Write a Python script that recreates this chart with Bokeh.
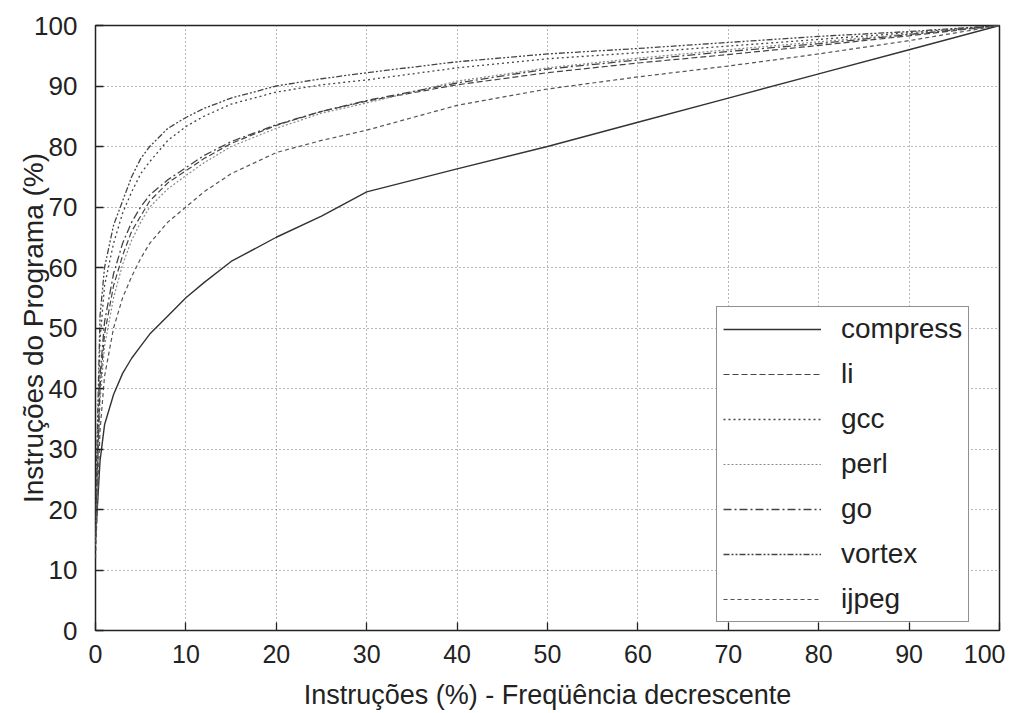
from bokeh.plotting import figure
from bokeh.models import Legend, LegendItem, Range1d, FixedTicker
from bokeh.embed import file_html
from bokeh.resources import INLINE

# ---- data ----
x_pct = [0, 0.5, 1, 2, 3, 4, 5, 6, 8, 10, 12, 15, 20, 25, 30, 40, 50, 60, 70, 80, 90, 100]

compress = [15, 28, 34, 39, 42.5, 45, 47, 49, 52, 55, 57.5, 61, 65, 68.5, 72.5, 76.3, 80, 84, 88, 92, 96, 100]
li       = [15, 40, 49, 57, 62, 66, 68.5, 71, 74, 76, 78, 80.5, 83.5, 85.8, 87.5, 90.2, 92.2, 93.8, 95.2, 96.7, 98.3, 100]
gcc      = [18, 48, 57, 64, 69, 72.5, 75.5, 77.5, 81, 83.3, 85, 87, 89, 90.2, 91, 93, 94.5, 95.5, 96.6, 97.7, 98.8, 100]
perl     = [14, 38, 47, 55, 60.5, 64.5, 67.5, 70, 73, 75.2, 77.3, 80, 83, 85.5, 87.2, 90.8, 93, 94.6, 96, 97.3, 98.6, 100]
go       = [16, 42, 51, 59, 64, 67.5, 70, 72, 74.5, 76.5, 78.5, 80.8, 83.6, 85.8, 87.6, 90.5, 92.8, 94.3, 95.7, 97, 98.5, 100]
vortex   = [20, 52, 60, 67, 71, 75, 78, 80, 83, 84.8, 86.3, 88, 90, 91.2, 92.2, 94, 95.3, 96.2, 97.2, 98.2, 99, 100]
ijpeg    = [12, 33, 42, 50, 55, 58.5, 61.5, 64, 67.5, 70, 72.5, 75.5, 79, 81, 82.7, 86.8, 89.5, 91.5, 93.3, 95.3, 97.5, 100]

series_names = ["compress", "li", "gcc", "perl", "go", "vortex", "ijpeg"]
series_values = [compress, li, gcc, perl, go, vortex, ijpeg]

ticks = [0, 10, 20, 30, 40, 50, 60, 70, 80, 90, 100]
x_title = "Instruções (%) - Freqüência decrescente"
y_title = "Instruções do Programa (%)"

# ---- styles ----
styles = {
    "compress": dict(color="#333333", dash="solid", width=1.4),
    "li":       dict(color="#444444", dash="6 3", width=1.2),
    "gcc":      dict(color="#444444", dash="2 3", width=1.3),
    "perl":     dict(color="#8a8a8a", dash="2 2", width=1.2),
    "go":       dict(color="#444444", dash="8 3 2 3", width=1.3),
    "vortex":   dict(color="#444444", dash="6 2 2 2 2 2", width=1.3),
    "ijpeg":    dict(color="#555555", dash="4 3", width=1.2),
}

FONT = "Liberation Sans"
INK = "#222222"

p = figure(width=1005, height=713, output_backend="svg", toolbar_location=None,
           x_range=Range1d(0, 100), y_range=Range1d(0, 100),
           min_border_left=95, min_border_top=25, min_border_right=6, min_border_bottom=83)

p.outline_line_color = INK
p.outline_line_width = 1.5

for ax in (p.xaxis[0], p.yaxis[0]):
    ax.ticker = FixedTicker(ticks=ticks)
    ax.axis_line_color = None
    ax.major_tick_in = 8
    ax.major_tick_out = 0
    ax.major_tick_line_color = INK
    ax.major_tick_line_width = 1.3
    ax.minor_tick_line_color = None
    ax.major_label_text_font = FONT
    ax.major_label_text_color = INK
    ax.axis_label_text_font = FONT
    ax.axis_label_text_font_style = "normal"
    ax.axis_label_text_color = INK

p.xaxis.major_label_text_font_size = "25px"
p.yaxis.major_label_text_font_size = "26px"
p.xaxis.axis_label_text_font_size = "27px"
p.yaxis.axis_label_text_font_size = "28px"
p.xaxis.axis_label = x_title
p.yaxis.axis_label = y_title
p.xaxis.major_label_standoff = 14
p.yaxis.major_label_standoff = 18
p.xaxis.axis_label_standoff = 14
p.yaxis.axis_label_standoff = -18

for g in (p.xgrid[0], p.ygrid[0]):
    g.ticker = FixedTicker(ticks=ticks)
    g.grid_line_color = "#6f6f6f"
    g.grid_line_dash = "1 3"
    g.grid_line_width = 1

items = []
for name, vals in zip(series_names, series_values):
    st = styles[name]
    r = p.line(x_pct, vals, line_color=st["color"], line_dash=st["dash"], line_width=st["width"])
    items.append(LegendItem(label=name, renderers=[r]))

legend = Legend(items=items, location=(621, 8))
legend.label_text_font = FONT
legend.label_text_font_size = "28px"
legend.label_text_color = INK
legend.glyph_width = 98
legend.glyph_height = 26
legend.label_height = 26
legend.spacing = 13
legend.padding = 6
legend.margin = 0
legend.border_line_color = INK
legend.border_line_width = 1.5
legend.background_fill_alpha = 1
legend.label_standoff = 20
p.add_layout(legend, "center")

open("out.html", "w").write(file_html(p, INLINE))
